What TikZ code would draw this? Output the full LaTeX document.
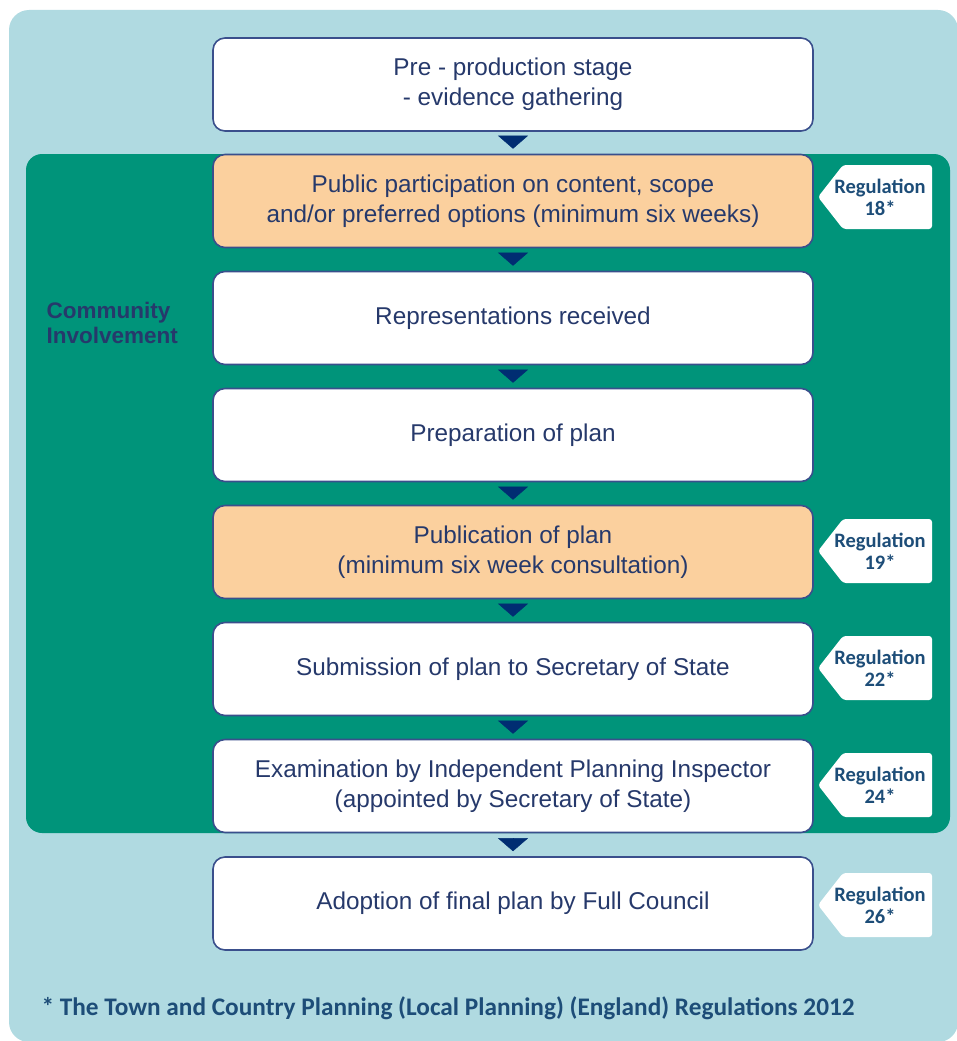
\documentclass[tikz,border=0pt]{standalone}
\usepackage{fontspec}
\setmainfont{Liberation Sans}
\newfontfamily\tagfont{Carlito}
\usetikzlibrary{arrows.meta}
\definecolor{bgblue}{HTML}{B0DAE1}
\definecolor{involve}{HTML}{00947A}
\definecolor{consult}{HTML}{FBD09E}
\definecolor{edge}{HTML}{3A4F8C}
\definecolor{navy}{HTML}{002D72}
\definecolor{ink}{HTML}{26396B}
\definecolor{regink}{HTML}{1D4D78}
\tikzset{
  stage/.style={draw=edge, line width=1.6pt, fill=white, rounded corners=12pt,
    minimum width=600pt, minimum height=93pt, inner sep=0pt, align=center,
    text=ink, font=\fontsize{24.3}{30}\selectfont},
  reg/.style={inner sep=0pt, align=center, text=regink,
    font=\tagfont\bfseries\fontsize{20.5}{22}\selectfont},
}
\begin{document}
\begin{tikzpicture}[x=1pt,y=-1pt]
  \useasboundingbox (0,0) rectangle (957,1041);
  \fill[bgblue, rounded corners=20pt] (9,10) rectangle (958,1042);
  \fill[involve, rounded corners=16pt] (26,154) rectangle (950,833);

  \node[stage] (s1) at (513,84.5) {Pre - production stage\\- evidence gathering};
  \node[stage, fill=consult] (s2) at (513,201) {Public participation on content, scope\\and/or preferred options (minimum six weeks)};
  \node[stage] (s3) at (513,318) {Representations received};
  \node[stage] (s4) at (513,435) {Preparation of plan};
  \node[stage, fill=consult] (s5) at (513,552) {Publication of plan\\(minimum six week consultation)};
  \node[stage] (s6) at (513,669) {Submission of plan to Secretary of State};
  \node[stage] (s7) at (513,786) {Examination by Independent Planning Inspector\\(appointed by Secretary of State)};
  \node[stage] (s8) at (513,903.5) {Adoption of final plan by Full Council};

  \begin{scope}[navy, line width=0.4pt, -{Triangle[width=30pt,length=13pt]},
      shorten <=6pt, shorten >=5pt]
    \foreach \a/\b in {1/2,2/3,3/4,4/5,5/6,6/7,7/8}
      \draw (s\a.south) -- (s\b.north);
  \end{scope}

  % regulation tags
  \foreach \n/\y in {18/197,19/551,22/668,24/785,26/905} {
    \fill[white, rounded corners=3pt] (843,\y-32) -- (932,\y-32) -- (932,\y+32)
      -- (843,\y+32) -- (818,\y) -- cycle;
    \node[reg] (r\n) at (880,\y) {Regulation\\\n*};
  }

  \node[anchor=west, align=left, text=ink, font=\bfseries\fontsize{22.5}{25}\selectfont]
    (ci) at (43,323) {Community\\Involvement};
  \node[anchor=west, text=regink, font=\tagfont\bfseries\fontsize{25.3}{28}\selectfont]
    (note) at (38,1008) {* The Town and Country Planning (Local Planning) (England) Regulations 2012};
\end{tikzpicture}
\end{document}
